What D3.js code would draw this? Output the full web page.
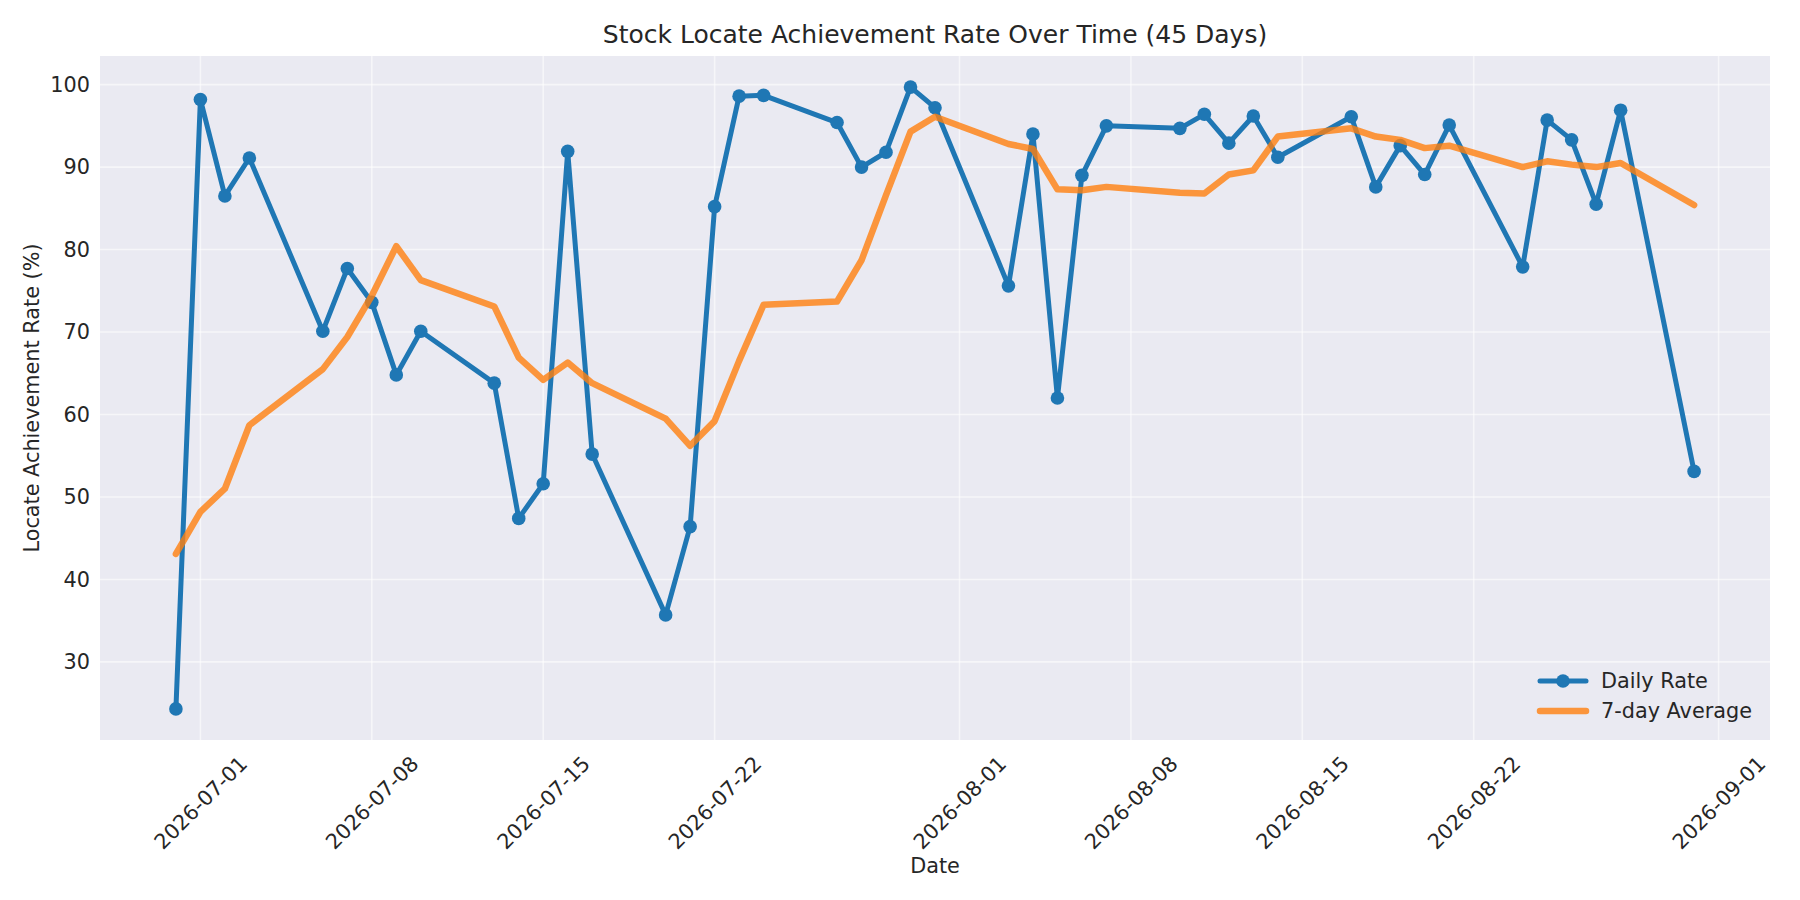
<!DOCTYPE html>
<html>
<head>
<meta charset="utf-8">
<script src="https://cdn.jsdelivr.net/npm/d3@7"></script>
<style>
  html, body { margin: 0; padding: 0; background: #ffffff; }
  svg { display: block; font-family: "DejaVu Sans", sans-serif; }
</style>
</head>
<body>
<svg id="chart" width="1800" height="900"></svg>
<script>
// ---- Data ----
const dates = [
  "2026-06-30","2026-07-01","2026-07-02","2026-07-03",
  "2026-07-06","2026-07-07","2026-07-08","2026-07-09","2026-07-10",
  "2026-07-13","2026-07-14","2026-07-15","2026-07-16","2026-07-17",
  "2026-07-20","2026-07-21","2026-07-22","2026-07-23","2026-07-24",
  "2026-07-27","2026-07-28","2026-07-29","2026-07-30","2026-07-31",
  "2026-08-03","2026-08-04","2026-08-05","2026-08-06","2026-08-07",
  "2026-08-10","2026-08-11","2026-08-12","2026-08-13","2026-08-14",
  "2026-08-17","2026-08-18","2026-08-19","2026-08-20","2026-08-21",
  "2026-08-24","2026-08-25","2026-08-26","2026-08-27","2026-08-28",
  "2026-08-31"
];
const dailyRate = [
  24.3, 98.2, 86.5, 91.1,
  70.1, 77.7, 73.6, 64.8, 70.1,
  63.8, 47.4, 51.6, 91.9, 55.2,
  35.7, 46.4, 85.2, 98.6, 98.7,
  95.4, 90.0, 91.8, 99.7, 97.2,
  75.6, 94.0, 62.0, 89.0, 95.0,
  94.7, 96.4, 92.9, 96.2, 91.2,
  96.1, 87.6, 92.6, 89.1, 95.1,
  77.9, 95.7, 93.3, 85.5, 96.9,
  53.1
];
const avg7 = [
  43.1, 48.2, 51.0, 58.7,
  65.5, 69.4, 74.4, 80.4, 76.3,
  73.1, 66.9, 64.2, 66.3, 63.8,
  59.5, 56.2, 59.2, 66.5, 73.3,
  73.7, 78.7, 86.6, 94.3, 96.1,
  92.8, 92.2, 87.3, 87.2, 87.6,
  86.9, 86.8, 89.1, 89.6, 93.7,
  94.7, 93.7, 93.3, 92.3, 92.6,
  90.0, 90.7, 90.3, 90.0, 90.5,
  85.4
];
const xTickLabels = ["2026-07-01","2026-07-08","2026-07-15","2026-07-22","2026-08-01","2026-08-08","2026-08-15","2026-08-22","2026-09-01"];
const yTickValues = [30, 40, 50, 60, 70, 80, 90, 100];
const seriesNames = ["Daily Rate", "7-day Average"];
const titleText = "Stock Locate Achievement Rate Over Time (45 Days)";
const xLabelText = "Date";
const yLabelText = "Locate Achievement Rate (%)";

// ---- Layout ----
const svg = d3.select("#chart");
const L = 100, R = 1770, T = 56, B = 740;
const parse = d3.utcParse("%Y-%m-%d");
const pts = dates.map((d, i) => ({ date: parse(d), daily: dailyRate[i], avg: avg7[i] }));

const xExt = d3.extent(pts, d => d.date);
const xPad = (xExt[1] - xExt[0]) * 0.05;
const x = d3.scaleUtc().domain([new Date(+xExt[0] - xPad), new Date(+xExt[1] + xPad)]).range([L, R]);

const allY = dailyRate.concat(avg7);
const yMin = d3.min(allY), yMax = d3.max(allY);
const yPad = (yMax - yMin) * 0.05;
const y = d3.scaleLinear().domain([yMin - yPad, yMax + yPad]).range([B, T]);

const textColor = "#262626";
const fs = 20.8;

// background
svg.append("rect").attr("x", L).attr("y", T).attr("width", R - L).attr("height", B - T).attr("fill", "#eaeaf2");

// grid
const xTicks = xTickLabels.map(parse);
const grid = svg.append("g");
grid.selectAll("line.gx").data(xTicks).enter().append("line")
  .attr("x1", d => x(d)).attr("x2", d => x(d)).attr("y1", T).attr("y2", B)
  .attr("stroke", "#ffffff").attr("stroke-opacity", 0.55).attr("stroke-width", 1.6);
grid.selectAll("line.gy").data(yTickValues).enter().append("line")
  .attr("x1", L).attr("x2", R).attr("y1", d => y(d)).attr("y2", d => y(d))
  .attr("stroke", "#ffffff").attr("stroke-opacity", 0.55).attr("stroke-width", 1.6);

// y tick labels
const yAxis = d3.axisLeft(y).tickValues(yTickValues).tickSize(0).tickPadding(10).tickFormat(d3.format("d"));
const gy = svg.append("g").attr("transform", `translate(${L},0)`).call(yAxis);
gy.select(".domain").remove();
gy.selectAll("text").attr("font-size", fs).attr("fill", textColor).attr("font-family", "DejaVu Sans");

// x tick labels (rotated 45, centered on tick)
const xAxis = d3.axisBottom(x).tickValues(xTicks).tickSize(0).tickFormat(d3.utcFormat("%Y-%m-%d"));
const gx = svg.append("g").attr("transform", `translate(0,${B})`).call(xAxis);
gx.select(".domain").remove();
gx.selectAll(".tick text").each(function() {
  const t = d3.select(this);
  t.attr("font-size", fs).attr("fill", textColor).attr("font-family", "DejaVu Sans")
   .attr("dy", null).attr("y", 0).attr("text-anchor", "middle").attr("dominant-baseline", "central");
  const w = this.getComputedTextLength();
  const h = fs * 1.1;
  const half = (w + h) * Math.SQRT1_2 / 2;
  t.attr("transform", `translate(0,${12 + half}) rotate(-45)`);
});

// lines
const lineDaily = d3.line().x(d => x(d.date)).y(d => y(d.daily));
const lineAvg = d3.line().x(d => x(d.date)).y(d => y(d.avg));

svg.append("path").datum(pts).attr("d", lineDaily)
  .attr("fill", "none").attr("stroke", "#1f77b4").attr("stroke-width", 5)
  .attr("stroke-linejoin", "round").attr("stroke-linecap", "round");
svg.append("g").selectAll("circle").data(pts).enter().append("circle")
  .attr("cx", d => x(d.date)).attr("cy", d => y(d.daily)).attr("r", 6.8)
  .attr("fill", "#1f77b4");

svg.append("path").datum(pts).attr("d", lineAvg)
  .attr("fill", "none").attr("stroke", "#ff7f0e").attr("stroke-opacity", 0.8).attr("stroke-width", 6.5)
  .attr("stroke-linejoin", "round").attr("stroke-linecap", "round");

// title & axis labels
svg.append("text").attr("x", (L + R) / 2).attr("y", 43).attr("text-anchor", "middle")
  .attr("font-size", 25).attr("fill", textColor).text(titleText);
svg.append("text").attr("x", (L + R) / 2).attr("y", 873).attr("text-anchor", "middle")
  .attr("font-size", fs).attr("fill", textColor).text(xLabelText);
svg.append("text").attr("transform", `translate(39,${(T + B) / 2}) rotate(-90)`).attr("text-anchor", "middle")
  .attr("font-size", fs).attr("fill", textColor).text(yLabelText);

// legend
const lg = svg.append("g");
const lx0 = 1540, lx1 = 1586, ltx = 1601, ly = [681, 711];
lg.append("line").attr("x1", lx0).attr("x2", lx1).attr("y1", ly[0]).attr("y2", ly[0])
  .attr("stroke", "#1f77b4").attr("stroke-width", 5).attr("stroke-linecap", "round");
lg.append("circle").attr("cx", (lx0 + lx1) / 2).attr("cy", ly[0]).attr("r", 6.8).attr("fill", "#1f77b4");
lg.append("line").attr("x1", lx0).attr("x2", lx1).attr("y1", ly[1]).attr("y2", ly[1])
  .attr("stroke", "#ff7f0e").attr("stroke-opacity", 0.8).attr("stroke-width", 6.5).attr("stroke-linecap", "round");
lg.selectAll("text.lt").data(seriesNames).enter().append("text")
  .attr("x", ltx).attr("y", (d, i) => ly[i]).attr("dominant-baseline", "central")
  .attr("font-size", fs).attr("fill", textColor).text(d => d);
</script>
</body>
</html>
